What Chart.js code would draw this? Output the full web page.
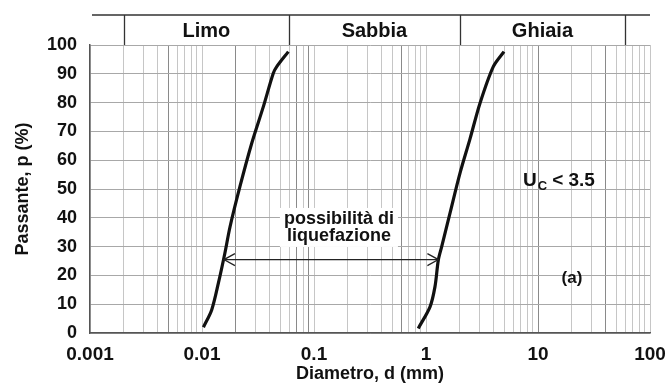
<!DOCTYPE html>
<html>
<head>
<meta charset="utf-8">
<script src="https://cdn.jsdelivr.net/npm/chart.js@4.4.1/dist/chart.umd.min.js"></script>
<style>
  html, body { margin: 0; padding: 0; background: #fff; }
  #wrap { width: 666px; height: 385px; position: relative; }
</style>
</head>
<body>
<div id="wrap"><canvas id="chart"></canvas></div>
<script>
const X_TICK_VALUES = [0.001, 0.01, 0.1, 1, 10, 100];
const X_TICK_LABELS = ["0.001", "0.01", "0.1", "1", "10", "100"];
const ZONE_BOUNDS = [0.002, 0.06, 2, 60];
const ZONE_NAMES = ["Limo", "Sabbia", "Ghiaia"];

// fine limit curve (left) and coarse limit curve (right)
const FINE_D = [0.0103, 0.0122, 0.0140, 0.0160, 0.0178, 0.0218, 0.0278, 0.0353, 0.0433, 0.0465, 0.0590];
const FINE_P = [2.0, 8.0, 17.3, 27.7, 36.9, 50.8, 65.9, 78.6, 90.2, 92.5, 97.7];
const COARSE_D = [0.853, 1.086, 1.203, 1.288, 1.381, 1.638, 2.012, 2.471, 3.035, 3.99, 4.97];
const COARSE_P = [1.6, 9.1, 16.1, 25.3, 30.0, 41.6, 55.5, 67.4, 79.8, 92.5, 97.7];

// liquefaction range arrow
const ARROW_D = [0.0157, 1.29];
const ARROW_P = [25.5, 25.5];

const DARK_LINES = [0.005, 0.02, 0.07, 0.09, 0.6, 10, 40];

const FONT = '"Liberation Sans", Arial, Helvetica, sans-serif';
Chart.defaults.font.family = FONT;
Chart.defaults.color = "#111";

function gridValues() {
  const out = [];
  for (let k = -3; k <= 1; k++) {
    for (let m = 1; m <= 9; m++) out.push(+(m * Math.pow(10, k)).toPrecision(3));
  }
  out.push(100);
  return out;
}

function near(a, b) {
  return Math.abs(Math.log10(a) - Math.log10(b)) < 1e-6;
}

const toPts = (ds, ps) => ds.map((d, i) => ({ x: d, y: ps[i] }));

const decorations = {
  id: "decorations",
  afterDatasetsDraw(chart) {
    const { ctx, scales: { x, y } } = chart;
    ctx.save();

    // arrow heads
    ctx.strokeStyle = "#222";
    ctx.lineWidth = 1.3;
    const lx = x.getPixelForValue(ARROW_D[0]), ly = y.getPixelForValue(ARROW_P[0]);
    const rx = x.getPixelForValue(ARROW_D[1]), ry = y.getPixelForValue(ARROW_P[1]);
    ctx.beginPath();
    ctx.moveTo(lx + 11, ly - 6); ctx.lineTo(lx, ly); ctx.lineTo(lx + 11, ly + 6);
    ctx.moveTo(rx - 11, ry - 6); ctx.lineTo(rx, ry); ctx.lineTo(rx - 11, ry + 6);
    ctx.stroke();

    // label with white box
    ctx.font = "bold 18px " + FONT;
    ctx.textAlign = "center";
    ctx.textBaseline = "middle";
    const cx = x.getPixelForValue(0.167);
    const y1 = y.getPixelForValue(39.6), y2 = y.getPixelForValue(33.7);
    const w = Math.max(ctx.measureText("possibilità di").width, ctx.measureText("liquefazione").width);
    ctx.fillStyle = "#fff";
    ctx.fillRect(cx - w / 2 - 4, y1 - 11, w + 8, y2 - y1 + 22);
    ctx.fillStyle = "#111";
    ctx.fillText("possibilità di", cx, y1);
    ctx.fillText("liquefazione", cx, y2);

    // U_C < 3.5
    ctx.font = "bold 19px " + FONT;
    ctx.textAlign = "left";
    ctx.textBaseline = "alphabetic";
    let ux = x.getPixelForValue(7.35);
    const uy = y.getPixelForValue(53.1) + 6;
    ctx.fillText("U", ux, uy);
    ux += ctx.measureText("U").width + 1;
    ctx.font = "bold 13px " + FONT;
    ctx.fillText("C", ux, uy + 4);
    ux += ctx.measureText("C").width + 5;
    ctx.font = "bold 19px " + FONT;
    ctx.fillText("< 3.5", ux, uy);

    // (a)
    ctx.font = "bold 17px " + FONT;
    ctx.textAlign = "center";
    ctx.textBaseline = "middle";
    ctx.fillText("(a)", x.getPixelForValue(20.1), y.getPixelForValue(19.1));

    ctx.restore();
  },
  afterDraw(chart) {
    const { ctx, scales: { x }, chartArea } = chart;
    const topY = 15;
    ctx.save();
    ctx.strokeStyle = "#333";
    ctx.lineWidth = 1.3;
    ctx.beginPath();
    ctx.moveTo(chartArea.left + 2, topY);
    ctx.lineTo(chartArea.right, topY);
    for (const b of ZONE_BOUNDS) {
      const px = Math.round(x.getPixelForValue(b)) + 0.5;
      ctx.moveTo(px, topY);
      ctx.lineTo(px, chartArea.top);
    }
    ctx.stroke();
    ctx.font = "bold 20px " + FONT;
    ctx.fillStyle = "#111";
    ctx.textAlign = "center";
    ctx.textBaseline = "middle";
    for (let i = 0; i < ZONE_NAMES.length; i++) {
      const a = x.getPixelForValue(ZONE_BOUNDS[i]);
      const b = x.getPixelForValue(ZONE_BOUNDS[i + 1]);
      ctx.fillText(ZONE_NAMES[i], (a + b) / 2, (topY + chartArea.top) / 2 + 1);
    }
    ctx.restore();
  },
};

new Chart(document.getElementById("chart"), {
  type: "line",
  data: {
    datasets: [
      {
        label: "fine",
        data: toPts(FINE_D, FINE_P),
        borderColor: "#111",
        borderWidth: 3.2,
        pointRadius: 0,
        tension: 0.3,
      },
      {
        label: "coarse",
        data: toPts(COARSE_D, COARSE_P),
        borderColor: "#111",
        borderWidth: 3.2,
        pointRadius: 0,
        tension: 0.3,
      },
      {
        label: "arrow",
        data: toPts(ARROW_D, ARROW_P),
        borderColor: "#222",
        borderWidth: 1.3,
        pointRadius: 0,
      },
    ],
  },
  options: {
    responsive: true,
    maintainAspectRatio: false,
    animation: false,
    layout: { padding: { top: 45, right: 16, left: 0, bottom: 0 } },
    plugins: { legend: { display: false }, tooltip: { enabled: false } },
    scales: {
      x: {
        type: "logarithmic",
        min: 0.001,
        max: 100,
        afterBuildTicks: (scale) => {
          scale.ticks = gridValues().map((v) => ({ value: v }));
        },
        afterFit: (scale) => {
          scale.height = 52;
          scale.paddingLeft = 0;
          scale.paddingRight = 0;
        },
        ticks: {
          autoSkip: false,
          maxRotation: 0,
          padding: 10,
          font: { size: 19, weight: "bold" },
          callback: (v) => {
            const i = X_TICK_VALUES.findIndex((t) => near(t, v));
            return i >= 0 ? X_TICK_LABELS[i] : "";
          },
        },
        grid: {
          drawTicks: false,
          color: (c) => (c.tick && DARK_LINES.some((d) => near(d, c.tick.value)) ? "#8a8a8a" : "#c6c6c6"),
          lineWidth: 1,
        },
        border: { display: true, color: "#555", width: 1.5 },
        title: {
          display: true,
          text: "Diametro, d (mm)",
          font: { size: 18, weight: "bold" },
          padding: { top: 0, bottom: 0 },
        },
      },
      y: {
        min: 0,
        max: 100,
        afterFit: (scale) => { scale.width = 90; },
        ticks: {
          stepSize: 10,
          padding: 13,
          font: { size: 18, weight: "bold" },
        },
        grid: { drawTicks: false, color: "#a8a8a8", lineWidth: 1 },
        border: { display: true, color: "#555", width: 1.5 },
        title: {
          display: true,
          text: "Passante, p (%)",
          font: { size: 18, weight: "bold" },
          padding: { top: 12, bottom: 0 },
        },
      },
    },
  },
  plugins: [decorations],
});
</script>
</body>
</html>
